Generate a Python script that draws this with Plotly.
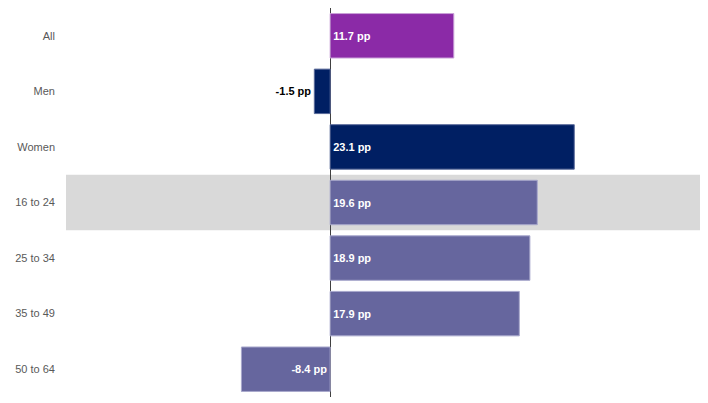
import plotly.graph_objects as go

# Data
categories = ["All", "Men", "Women", "16 to 24", "25 to 34", "35 to 49", "50 to 64"]
values = [11.7, -1.5, 23.1, 19.6, 18.9, 17.9, -8.4]
highlight = "16 to 24"

colors = ["#8b2aa7", "#001f63", "#001f63", "#66669e", "#66669e", "#66669e", "#66669e"]
line_colors = ["#c9a0d8", "#5a6a9a", "#5a6a9a", "#a8a8cc", "#a8a8cc", "#a8a8cc", "#a8a8cc"]
labels = [f"<b>{v:.1f} pp</b>" for v in values]
positions = ["outside" if abs(v) < 3 else "inside" for v in values]
text_colors = ["#000000" if p == "outside" else "#ffffff" for p in positions]

fig = go.Figure(go.Bar(
    x=values,
    y=categories,
    orientation="h",
    marker=dict(color=colors, line=dict(color=line_colors, width=1)),
    text=labels,
    textposition=positions,
    insidetextanchor="start",
    textfont=dict(family="Liberation Sans, Arial", size=11, color=text_colors),
    cliponaxis=False,
    hoverinfo="skip",
))

hi = categories.index(highlight)
fig.add_shape(type="rect", xref="paper", yref="y",
              x0=0, x1=1, y0=hi - 0.5, y1=hi + 0.5,
              fillcolor="#d9d9d9", line=dict(width=0), layer="below")

# page body has an 8px margin, so the figure is sized to fit inside it
fig.update_layout(
    width=700, height=395,
    margin=dict(l=58, r=8, t=0, b=6),
    paper_bgcolor="white", plot_bgcolor="white",
    bargap=0.2,
    showlegend=False,
    font=dict(family="Liberation Sans, Arial", size=11, color="#595959"),
    xaxis=dict(range=[-25, 35], showticklabels=False, showgrid=False,
               zeroline=True, zerolinecolor="#404040", zerolinewidth=1,
               fixedrange=True),
    yaxis=dict(autorange="reversed", showgrid=False, ticks="",
               ticklabelstandoff=10, automargin=False, fixedrange=True),
    uniformtext=dict(minsize=11, mode="show"),
)

fig.write_html("out.html")
